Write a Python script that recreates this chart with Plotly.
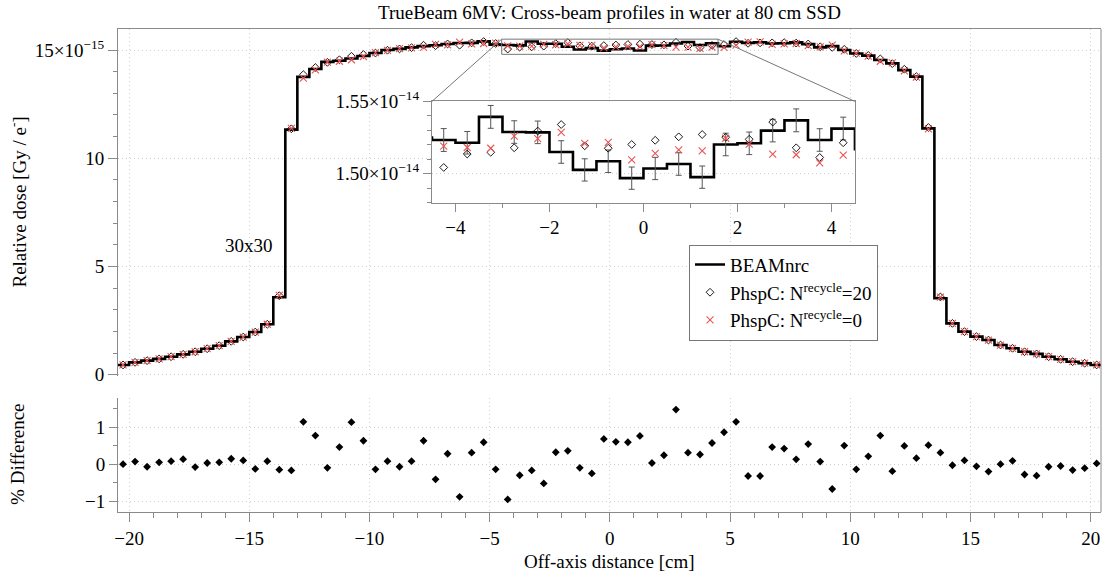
import plotly.graph_objects as go

# ---------------- data ----------------
pos = [-20.25, -19.75, -19.25, -18.75, -18.25, -17.75, -17.25, -16.75, -16.25, -15.75,
       -15.25, -14.75, -14.25, -13.75, -13.25, -12.75, -12.25, -11.75, -11.25, -10.75,
       -10.25, -9.75, -9.25, -8.75, -8.25, -7.75, -7.25, -6.75, -6.25, -5.75,
       -5.25, -4.75, -4.25, -3.75, -3.25, -2.75, -2.25, -1.75, -1.25, -0.75,
       -0.25, 0.25, 0.75, 1.25, 1.75, 2.25, 2.75, 3.25, 3.75, 4.25,
       4.75, 5.25, 5.75, 6.25, 6.75, 7.25, 7.75, 8.25, 8.75, 9.25,
       9.75, 10.25, 10.75, 11.25, 11.75, 12.25, 12.75, 13.25, 13.75, 14.25,
       14.75, 15.25, 15.75, 16.25, 16.75, 17.25, 17.75, 18.25, 18.75, 19.25,
       19.75, 20.25]

beam = [0.45, 0.57, 0.65, 0.73, 0.83, 0.94, 1.06, 1.20, 1.34, 1.54,
        1.74, 1.97, 2.33, 3.58, 11.32, 13.76, 14.12, 14.45, 14.50, 14.61,
        14.72, 14.86, 15.00, 15.05, 15.12, 15.18, 15.22, 15.28, 15.32, 15.33,
        15.40, 15.25, 15.233, 15.214, 15.393, 15.288, 15.286, 15.150, 15.026, 15.086,
        14.969, 15.036, 15.067, 14.976, 15.202, 15.210, 15.298, 15.369, 15.233, 15.312,
        15.17, 15.38, 15.33, 15.36, 15.30, 15.31, 15.35, 15.27, 15.12, 15.18,
        15.00, 14.84, 14.74, 14.54, 14.38, 14.07, 13.77, 11.38, 3.53, 2.37,
        1.99, 1.76, 1.60, 1.37, 1.22, 1.06, 0.96, 0.83, 0.71, 0.60,
        0.53, 0.45]

beam_err = [0.002, 0.003, 0.003, 0.004, 0.004, 0.005, 0.005, 0.006, 0.007, 0.008,
            0.009, 0.010, 0.012, 0.019, 0.059, 0.072, 0.074, 0.075, 0.076, 0.076,
            0.077, 0.077, 0.078, 0.078, 0.078, 0.079, 0.079, 0.079, 0.080, 0.080,
            0.080, 0.079, 0.079, 0.078, 0.079, 0.078, 0.078, 0.078, 0.077, 0.078,
            0.077, 0.077, 0.078, 0.077, 0.078, 0.078, 0.078, 0.079, 0.078, 0.079,
            0.079, 0.080, 0.080, 0.080, 0.080, 0.080, 0.080, 0.079, 0.079, 0.079,
            0.078, 0.077, 0.077, 0.076, 0.075, 0.073, 0.072, 0.059, 0.018, 0.012,
            0.010, 0.009, 0.008, 0.007, 0.006, 0.005, 0.005, 0.004, 0.004, 0.003,
            0.003, 0.002]

phsp20 = [0.45, 0.57, 0.65, 0.73, 0.83, 0.94, 1.06, 1.20, 1.34, 1.54,
          1.74, 1.97, 2.33, 3.65, 11.36, 13.86, 14.19, 14.43, 14.55, 14.71,
          14.79, 14.86, 14.99, 15.05, 15.11, 15.22, 15.20, 15.28, 15.22, 15.33,
          15.39, 15.30, 15.043, 15.136, 15.148, 15.179, 15.295, 15.340, 15.193, 15.176,
          15.202, 15.231, 15.255, 15.271, 15.252, 15.238, 15.357, 15.179, 15.112, 15.214,
          15.25, 15.39, 15.31, 15.33, 15.33, 15.34, 15.32, 15.28, 15.15, 15.12,
          15.03, 14.84, 14.75, 14.59, 14.37, 14.11, 13.77, 11.42, 3.59, 2.37,
          1.99, 1.76, 1.60, 1.37, 1.22, 1.06, 0.96, 0.83, 0.71, 0.60,
          0.53, 0.45]

phsp0 = [0.45, 0.57, 0.65, 0.73, 0.83, 0.94, 1.06, 1.20, 1.34, 1.54,
         1.74, 1.97, 2.33, 3.66, 11.38, 13.70, 14.08, 14.44, 14.48, 14.55,
         14.70, 14.88, 14.98, 15.06, 15.10, 15.12, 15.26, 15.24, 15.36, 15.28,
         15.30, 15.32, 15.190, 15.181, 15.176, 15.260, 15.243, 15.286, 15.210, 15.217,
         15.095, 15.140, 15.164, 15.157, 15.245, 15.205, 15.136, 15.131, 15.074, 15.129,
         15.12, 15.22, 15.36, 15.38, 15.26, 15.28, 15.30, 15.20, 15.14, 15.22,
         14.96, 14.86, 14.72, 14.48, 14.40, 14.04, 13.75, 11.36, 3.58, 2.37,
         1.99, 1.76, 1.60, 1.37, 1.22, 1.06, 0.96, 0.83, 0.71, 0.60,
         0.53, 0.45]

pct_diff = [0.00, 0.07, -0.07, 0.05, 0.08, 0.135, -0.08, 0.03, 0.05, 0.145,
            0.10, -0.13, 0.08, -0.15, -0.17, 1.14, 0.77, -0.10, 0.46, 1.13,
            0.63, -0.14, 0.08, -0.07, 0.08, 0.63, -0.41, 0.28, -0.88, 0.31,
            0.59, -0.14, -0.95, -0.30, -0.17, -0.52, 0.32, 0.36, -0.10, -0.25,
            0.68, 0.60, 0.59, 0.76, 0.03, 0.24, 1.47, 0.31, 0.26, 0.57,
            0.86, 1.14, -0.32, -0.32, 0.46, 0.42, 0.13, 0.54, 0.07, -0.67,
            0.50, -0.14, 0.21, 0.77, -0.19, 0.49, 0.16, 0.51, 0.31, -0.03,
            0.10, -0.06, -0.20, 0.00, 0.09, -0.28, -0.31, -0.07, -0.05, -0.16,
            -0.11, 0.02]

bin_width = 0.5
main_y_ticks = [0, 5, 10, 15]
main_y_text = ["0", "5", "10", "15×10<sup>−15</sup>"]
diff_y_ticks = [-1, 0, 1]
diff_y_text = ["−1", "0", "1"]
x_ticks = [-20, -15, -10, -5, 0, 5, 10, 15, 20]
x_text = ["−20", "−15", "−10", "−5", "0", "5", "10", "15", "20"]
inset_x_ticks = [-4, -2, 0, 2, 4]
inset_x_text = ["−4", "−2", "0", "2", "4"]
inset_y_ticks = [15.0, 15.5]
inset_y_text = ["1.50×10<sup>−14</sup>", "1.55×10<sup>−14</sup>"]

# ---------------- layout constants ----------------
FONT = "Liberation Serif"
FS = 19
AX = "#8a8a8a"
GRID = "#cfcfcf"
RED = "rgb(236,84,84)"

x_range = [-20.46, 20.43]
main_dom = [0.2816, 1.0]
main_yr = [-0.06, 15.97]
diff_dom = [0.0, 0.2366]
diff_yr = [-1.29, 1.79]
inset_xdom = [0.3194, 0.7497]
inset_ydom = [0.6406, 0.8501]
inset_xr = [-4.5, 4.5]
inset_yr = [14.8, 15.5]

edges = [p - bin_width / 2 for p in pos] + [pos[-1] + bin_width / 2]
step_y = beam + [beam[-1]]

fig = go.Figure()

# main panel
fig.add_trace(go.Scatter(x=edges, y=step_y, mode="lines", line=dict(shape="hv", color="black", width=2.6),
                         name="BEAMnrc", xaxis="x", yaxis="y"))
fig.add_trace(go.Scatter(x=pos, y=phsp20, mode="markers",
                         marker=dict(symbol="diamond-open", size=6, color="black", line=dict(width=0.9)),
                         name="PhspC: N<sup>recycle</sup>=20", xaxis="x", yaxis="y"))
fig.add_trace(go.Scatter(x=pos, y=phsp0, mode="markers",
                         marker=dict(symbol="x-thin-open", size=7, color=RED, line=dict(width=1.1, color=RED)),
                         name="PhspC: N<sup>recycle</sup>=0", xaxis="x", yaxis="y"))

# inset
fig.add_trace(go.Scatter(x=edges, y=step_y, mode="lines", line=dict(shape="hv", color="black", width=2.6),
                         showlegend=False, xaxis="x3", yaxis="y3"))
fig.add_trace(go.Scatter(x=pos, y=beam, mode="markers", marker=dict(size=1, color="rgba(0,0,0,0)"),
                         error_y=dict(type="data", array=beam_err, color="#555555", thickness=1, width=3),
                         showlegend=False, xaxis="x3", yaxis="y3", hoverinfo="skip"))
fig.add_trace(go.Scatter(x=pos, y=phsp20, mode="markers",
                         marker=dict(symbol="diamond-open", size=6, color="black", line=dict(width=0.9)),
                         showlegend=False, xaxis="x3", yaxis="y3"))
fig.add_trace(go.Scatter(x=pos, y=phsp0, mode="markers",
                         marker=dict(symbol="x-thin-open", size=7, color=RED, line=dict(width=1.1, color=RED)),
                         showlegend=False, xaxis="x3", yaxis="y3"))

# difference panel
fig.add_trace(go.Scatter(x=pos, y=pct_diff, mode="markers",
                         marker=dict(symbol="diamond", size=6, color="black"),
                         showlegend=False, xaxis="x2", yaxis="y2"))

tickfont = dict(family=FONT, size=FS, color="black")
common = dict(linecolor=AX, linewidth=1, tickcolor=AX, tickfont=tickfont, zeroline=False,
              gridcolor=GRID, griddash="1px,3px", gridwidth=1)

fig.update_layout(
    width=1103, height=573,
    margin=dict(l=118, r=2, t=29, b=61),
    paper_bgcolor="white", plot_bgcolor="white",
    font=dict(family=FONT, size=FS, color="black"),
    title=dict(text="TrueBeam 6MV: Cross-beam profiles in water at 80 cm SSD", x=0.5, xref="paper",
               y=1 - 12 / 573, yref="container", yanchor="middle", xanchor="center",
               font=dict(family=FONT, size=FS, color="black")),
    xaxis=dict(domain=[0, 1], range=x_range, anchor="y", matches="x2", side="top", showline=True,
               ticks="", showticklabels=False, showgrid=True, tickvals=x_ticks,
               **{k: v for k, v in common.items() if k != "tickfont"}),
    yaxis=dict(domain=main_dom, range=main_yr, anchor="x", showline=True, ticks="outside", ticklen=9,
               tickvals=main_y_ticks, ticktext=main_y_text, showgrid=True,
               minor=dict(ticks="outside", ticklen=4, dtick=1, tick0=0, tickcolor=AX, showgrid=False),
               **common),
    xaxis2=dict(domain=[0, 1], range=x_range, anchor="y2", showline=True, ticks="outside", ticklen=9,
                tickvals=x_ticks, ticktext=x_text, showgrid=True,
                minor=dict(ticks="outside", ticklen=5, dtick=1, tick0=0, tickcolor=AX, showgrid=False),
                **common),
    yaxis2=dict(domain=diff_dom, range=diff_yr, anchor="x2", showline=True, ticks="outside", ticklen=8,
                tickvals=diff_y_ticks, ticktext=diff_y_text, showgrid=True,
                minor=dict(ticks="outside", ticklen=4, dtick=0.5, tick0=0, tickcolor=AX, showgrid=False),
                **common),
    xaxis3=dict(domain=inset_xdom, range=inset_xr, anchor="y3", showline=True, mirror=True, ticks="outside",
                ticklen=8, tickvals=inset_x_ticks, ticktext=inset_x_text, showgrid=False,
                minor=dict(ticks="outside", ticklen=4, dtick=1, tick0=0, tickcolor=AX, showgrid=False),
                **common),
    yaxis3=dict(domain=inset_ydom, range=inset_yr, anchor="x3", showline=True, mirror=True, ticks="outside",
                ticklen=8, tickvals=inset_y_ticks, ticktext=inset_y_text, showgrid=True,
                minor=dict(ticks="outside", ticklen=4, dtick=0.1, tick0=0, tickcolor=AX, showgrid=False),
                **common),
    legend=dict(x=0.5809, y=0.5534, xanchor="left", yanchor="top", bgcolor="white", bordercolor="#777777",
                borderwidth=1, font=dict(family=FONT, size=FS, color="black"), tracegroupgap=0,
                itemwidth=30),
    showlegend=True,
)


def to_paper_x(v):
    return (v - x_range[0]) / (x_range[1] - x_range[0])


def to_paper_y(v):
    return main_dom[0] + (v - main_yr[0]) / (main_yr[1] - main_yr[0]) * (main_dom[1] - main_dom[0])


# zoom rectangle on main plot
fig.add_shape(type="rect", xref="x", yref="y", x0=inset_xr[0], x1=inset_xr[1], y0=inset_yr[0], y1=inset_yr[1],
              line=dict(color="#777777", width=1))
# connector lines
fig.add_shape(type="line", xref="paper", yref="paper", x0=to_paper_x(inset_xr[0]), y0=to_paper_y(inset_yr[1]),
              x1=inset_xdom[0], y1=inset_ydom[1], line=dict(color="#777777", width=1))
fig.add_shape(type="line", xref="paper", yref="paper", x0=to_paper_x(inset_xr[1]), y0=to_paper_y(inset_yr[1]),
              x1=inset_xdom[1], y1=inset_ydom[1], line=dict(color="#777777", width=1))
# right frame line
fig.add_shape(type="line", xref="paper", yref="paper", x0=1, x1=1, y0=0, y1=1, line=dict(color=AX, width=1))

ann_font = dict(family=FONT, size=FS, color="black")
fig.add_annotation(text="30x30", x=-15.0, y=5.95, xref="x", yref="y", showarrow=False, font=ann_font,
                   xanchor="center", yanchor="middle")
fig.add_annotation(text="Relative dose [Gy / e<sup>-</sup>]", x=-0.1017, y=sum(main_dom) / 2, xref="paper",
                   yref="paper", showarrow=False, textangle=-90, font=ann_font, xanchor="center", yanchor="middle")
fig.add_annotation(text="% Difference", x=-0.1017, y=sum(diff_dom) / 2, xref="paper", yref="paper",
                   showarrow=False, textangle=-90, font=ann_font, xanchor="center", yanchor="middle")
fig.add_annotation(text="Off-axis distance [cm]", x=0.5, y=-0.1035, xref="paper", yref="paper",
                   showarrow=False, font=ann_font, xanchor="center", yanchor="middle")

fig.write_html("out.html")
